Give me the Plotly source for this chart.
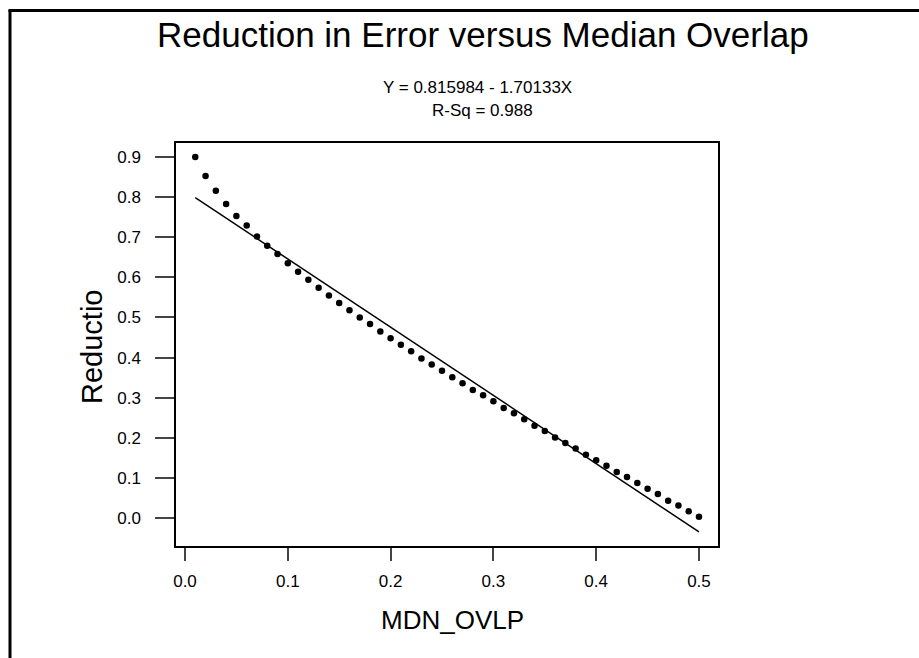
import plotly.graph_objects as go

# ---- data ----
mdn_ovlp = [0.01, 0.02, 0.03, 0.04, 0.05, 0.06, 0.07, 0.08, 0.09, 0.10,
            0.11, 0.12, 0.13, 0.14, 0.15, 0.16, 0.17, 0.18, 0.19, 0.20,
            0.21, 0.22, 0.23, 0.24, 0.25, 0.26, 0.27, 0.28, 0.29, 0.30,
            0.31, 0.32, 0.33, 0.34, 0.35, 0.36, 0.37, 0.38, 0.39, 0.40,
            0.41, 0.42, 0.43, 0.44, 0.45, 0.46, 0.47, 0.48, 0.49, 0.50]
reduction = [0.900, 0.853, 0.816, 0.783, 0.753, 0.729, 0.702, 0.679, 0.658, 0.635,
             0.614, 0.594, 0.574, 0.555, 0.536, 0.518, 0.500, 0.484, 0.465, 0.448,
             0.432, 0.416, 0.398, 0.383, 0.367, 0.351, 0.336, 0.319, 0.306, 0.291,
             0.274, 0.261, 0.246, 0.230, 0.217, 0.201, 0.187, 0.173, 0.158, 0.144,
             0.130, 0.115, 0.102, 0.087, 0.073, 0.060, 0.043, 0.031, 0.017, 0.003]

INTERCEPT = 0.815984
SLOPE = -1.70133
fit_x = [0.01, 0.50]
fit_y = [INTERCEPT + SLOPE * v for v in fit_x]

x_ticks = [0.0, 0.1, 0.2, 0.3, 0.4, 0.5]
x_tick_text = ["0.0", "0.1", "0.2", "0.3", "0.4", "0.5"]
y_ticks = [0.0, 0.1, 0.2, 0.3, 0.4, 0.5, 0.6, 0.7, 0.8, 0.9]
y_tick_text = ["0.0", "0.1", "0.2", "0.3", "0.4", "0.5", "0.6", "0.7", "0.8", "0.9"]

title_text = "Reduction in Error versus Median Overlap"
eq_text = "Y = 0.815984 - 1.70133X"
rsq_text = "R-Sq = 0.988"
x_title = "MDN_OVLP"
y_title = "Reductio"

# ---- layout geometry (pixels) ----
W, H = 919, 658
L, R, T, B = 176, 718, 143, 546
pw, ph = R - L, B - T


def px(xp):
    return (xp - L) / pw


def py(yp):
    return (B - yp) / ph


FONT = "Liberation Sans, Arial, sans-serif"

fig = go.Figure()
fig.add_trace(go.Scatter(x=fit_x, y=fit_y, mode="lines",
                         line=dict(color="black", width=1.5), hoverinfo="skip"))
fig.add_trace(go.Scatter(x=mdn_ovlp, y=reduction, mode="markers",
                         marker=dict(color="black", size=6.5)))

fig.update_layout(
    width=W, height=H,
    margin=dict(l=L, r=W - R, t=T, b=H - B, pad=0),
    paper_bgcolor="white", plot_bgcolor="white",
    showlegend=False,
    font=dict(family=FONT, color="black"),
)
fig.update_xaxes(
    range=[-0.00875, 0.5185], tickvals=x_ticks, ticktext=x_tick_text,
    showgrid=False, zeroline=False,
    showline=True, linecolor="black", linewidth=1.5, mirror=True,
    ticks="outside", ticklen=13, tickwidth=1.5, tickcolor="#444",
    tickfont=dict(size=17, family=FONT, color="black"), ticklabelstandoff=6,
)
fig.update_yaxes(
    range=[-0.0698, 0.935], tickvals=y_ticks, ticktext=y_tick_text,
    showgrid=False, zeroline=False,
    showline=True, linecolor="black", linewidth=1.5, mirror=True,
    ticks="outside", ticklen=19, tickwidth=1.5, tickcolor="#444",
    tickfont=dict(size=17, family=FONT, color="black"), ticklabelstandoff=11,
)

ann = [
    dict(text=title_text, x=px(483), y=py(35), font=dict(size=35, family=FONT)),
    dict(text=eq_text, x=px(477), y=py(88), font=dict(size=17, family=FONT)),
    dict(text=rsq_text, x=px(482), y=py(110), font=dict(size=17, family=FONT)),
    dict(text=x_title, x=px(452), y=py(620), font=dict(size=26, family=FONT)),
    dict(text=y_title, x=px(92), y=py(347), font=dict(size=29, family=FONT), textangle=-90),
]
for a in ann:
    fig.add_annotation(xref="paper", yref="paper", xanchor="center", yanchor="middle",
                       showarrow=False, **a)

# outer frame (left and top edges of the page border)
fig.add_shape(type="line", xref="paper", yref="paper",
              x0=px(10), x1=px(10), y0=py(10), y1=py(H + 5),
              line=dict(color="black", width=3))
fig.add_shape(type="line", xref="paper", yref="paper",
              x0=px(8.5), x1=px(W + 5), y0=py(10.5), y1=py(10.5),
              line=dict(color="black", width=3))

fig.write_html("out.html")
